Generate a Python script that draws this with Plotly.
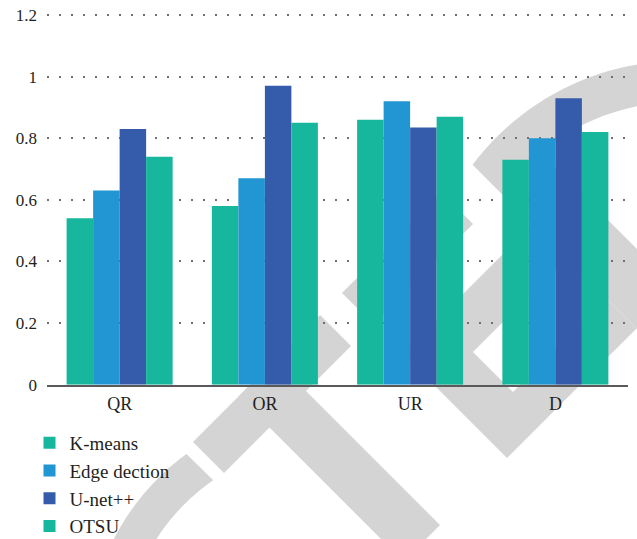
import numpy as np
import plotly.graph_objects as go

# ---------------- data ----------------
categories = ["QR", "OR", "UR", "D"]
series_names = ["K-means", "Edge dection", "U-net++", "OTSU"]
kmeans = [0.54, 0.58, 0.86, 0.73]
edge_dection = [0.63, 0.67, 0.92, 0.80]
unet_pp = [0.83, 0.97, 0.835, 0.93]
otsu = [0.74, 0.85, 0.87, 0.82]
y_tickvals = [0, 0.2, 0.4, 0.6, 0.8, 1.0, 1.2]
y_ticktext = ["0", "0.2", "0.4", "0.6", "0.8", "1", "1.2"]

# ---------------- style ----------------
colors = ["#16B79C", "#2296D3", "#355CAA", "#16B79C"]
FONT = "Liberation Serif, Times New Roman, Times, serif"
W, H = 637, 539
MT, MR = 11, 9
PAPER_W, PAPER_H = W - MR, H - MT          # margins l=b=0, axes placed by domain
X0, X1 = 47, 628                           # plot area in pixels
Y_BOT = 384.7                              # pixel row of value 0
PX_PER_UNIT = (384.7 - 15.0) / 1.2         # 1.2 sits at pixel row 15
Y_MAX = 1.21
Y_TOP = Y_BOT - Y_MAX * PX_PER_UNIT
GRAY = "#d4d4d4"


def to_paper(px, py):
    return px / PAPER_W, (H - py) / PAPER_H


def uv(u, v):
    # intersection of lines x - y = u and x + y = v (pixel space)
    return ((u + v) / 2.0, (v - u) / 2.0)


def arc(cx, cy, r, t0, t1, n=60):
    ts = np.radians(np.linspace(t0, t1, n))
    return [(cx + r * np.cos(t), cy + r * np.sin(t)) for t in ts]


def path_of(polys):
    parts = []
    for poly in polys:
        pts = [to_paper(x, y) for x, y in poly]
        s = "M" + " L".join(f"{x:.5f},{y:.5f}" for x, y in pts) + " Z"
        parts.append(s)
    return " ".join(parts)


# ---------------- watermark (decorative background) ----------------
wm = []
cx, cy, ro, ri = 680, 320, 259, 218
poly = arc(cx, cy, ro, -143.2, -15) + arc(cx, cy, ri, -15, -129.8)
poly += [uv(388, 1132), uv(308, 1052)]
wm.append([poly])
wm.append([arc(330, 650, 243, -126.2, -185) + arc(330, 650, 206, -185, -124.5)])
wm.append([[uv(-249, 635), uv(-249, 697), uv(5, 697), uv(5, 635)]])
wm.append([[uv(49, 635), uv(49, 697), uv(249, 697), uv(249, 635)]])
wm.append([[uv(-158, 635), uv(-85, 635), uv(-85, 965), uv(-158, 965)]])
wm.append([
    [uv(49, 757), uv(308, 757), uv(308, 965), uv(49, 965)],
    [uv(121, 825), uv(308, 825), uv(308, 905), uv(121, 905)],
])

shapes = []
for polys in wm:
    shapes.append(dict(type="path", path=path_of(polys), xref="paper", yref="paper",
                       fillcolor=GRAY, line=dict(width=0), layer="below"))

# ---------------- figure ----------------
fig = go.Figure()
for name, vals, col in zip(series_names, [kmeans, edge_dection, unet_pp, otsu], colors):
    fig.add_trace(go.Bar(x=categories, y=vals, name=name, marker=dict(color=col, line=dict(width=0))))

fig.update_layout(
    width=W, height=H,
    margin=dict(l=0, r=MR, t=MT, b=0, pad=0, autoexpand=False),
    paper_bgcolor="white", plot_bgcolor="rgba(0,0,0,0)",
    barmode="group", bargap=0.27, bargroupgap=0,
    font=dict(family=FONT, size=18, color="#231f20"),
    shapes=shapes,
    showlegend=True,
    legend=dict(orientation="v", x=29.5 / PAPER_W, y=(H - 424) / PAPER_H,
                xanchor="left", yanchor="top",
                bgcolor="rgba(0,0,0,0)", font=dict(family=FONT, size=19, color="#231f20"),
                traceorder="normal", itemwidth=30),
)
fig.update_xaxes(domain=[X0 / PAPER_W, X1 / PAPER_W],
                 showline=True, linecolor="#5a5a5a", linewidth=1.5, showgrid=False,
                 ticks="", tickfont=dict(family=FONT, size=18), ticklabelstandoff=2)
fig.update_yaxes(domain=[(H - Y_BOT) / PAPER_H, min(1.0, (H - Y_TOP) / PAPER_H)],
                 range=[0, Y_MAX], tickvals=y_tickvals, ticktext=y_ticktext,
                 showgrid=True, gridcolor="#707070", gridwidth=1.5, griddash="2px,10px",
                 zeroline=False, showline=False, ticks="", tickfont=dict(family=FONT, size=17),
                 ticklabelstandoff=9)

fig.write_html("out.html")
